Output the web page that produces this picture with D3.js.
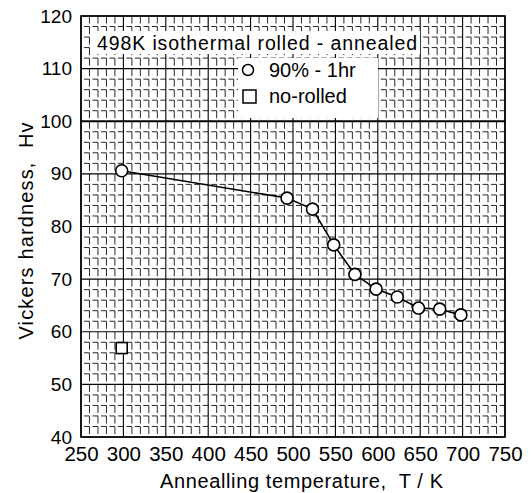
<!DOCTYPE html>
<html><head><meta charset="utf-8">
<script src="https://cdn.jsdelivr.net/npm/d3@7"></script>
<style>body{margin:0;background:#fff}svg{display:block}text{font-family:"Liberation Sans",Arial,sans-serif;fill:#000;white-space:pre}</style>
</head><body>
<svg id="c" width="531" height="493"></svg>
<script>
const temps = [298, 493, 523, 548, 573, 598, 623, 648, 673, 698];
const hardness = [90.6, 85.4, 83.3, 76.5, 70.9, 68.1, 66.6, 64.5, 64.3, 63.2];
const noRolledT = [298];
const noRolledH = [56.9];
const xTicks = [250, 300, 350, 400, 450, 500, 550, 600, 650, 700, 750];
const yTicks = [40, 50, 60, 70, 80, 90, 100, 110, 120];
const titleText = "498K isothermal rolled - annealed";
const legendLabels = ["90% - 1hr", "no-rolled"];
const xTitle = "Annealling temperature,  T / K";
const yTitle = "Vickers hardness,  Hv";

const m = {l:81, t:16, w:424, h:421};
const svg = d3.select("#c");
const x = d3.scaleLinear().domain([250,750]).range([m.l, m.l+m.w]);
const y = d3.scaleLinear().domain([40,120]).range([m.t+m.h, m.t]);
const g = svg.append("g");

// minor grid
const minorX = d3.range(250, 751, 10).filter(v => v % 50 !== 0);
const minorY = d3.range(40, 121, 2).filter(v => v % 10 !== 0);
const sx = x(260) - x(250), sy = y(40) - y(42);
g.selectAll(".mx").data(minorX).enter().append("line")
  .attr("x1", d=>x(d)).attr("x2", d=>x(d)).attr("y1", m.t).attr("y2", m.t+m.h)
  .attr("stroke", "#111").attr("stroke-width", 0.9)
  .attr("stroke-dasharray", `${sy-3} 3`);
g.selectAll(".my").data(minorY).enter().append("line")
  .attr("y1", d=>y(d)).attr("y2", d=>y(d)).attr("x1", m.l).attr("x2", m.l+m.w)
  .attr("stroke", "#111").attr("stroke-width", 0.9)
  .attr("stroke-dasharray", `${sx-3} 3`).attr("stroke-dashoffset", sx-3);
// major grid
g.selectAll(".Mx").data(xTicks).enter().append("line")
  .attr("x1", d=>x(d)).attr("x2", d=>x(d)).attr("y1", m.t).attr("y2", m.t+m.h)
  .attr("stroke", "#000").attr("stroke-width", 1.1);
g.selectAll(".My").data(yTicks).enter().append("line")
  .attr("y1", d=>y(d)).attr("y2", d=>y(d)).attr("x1", m.l).attr("x2", m.l+m.w)
  .attr("stroke", "#000").attr("stroke-width", d => d===100 ? 1.8 : 1.1);
// frame
g.append("rect").attr("x", m.l).attr("y", m.t).attr("width", m.w).attr("height", m.h)
  .attr("fill", "none").attr("stroke", "#000").attr("stroke-width", 1.6);

// axes labels via d3 axes (no domain / tick lines)
const xa = svg.append("g").attr("transform", `translate(0,${m.t+m.h})`)
  .call(d3.axisBottom(x).tickValues(xTicks).tickSize(0).tickPadding(9).tickFormat(d3.format("d")));
const ya = svg.append("g").attr("transform", `translate(${m.l},0)`)
  .call(d3.axisLeft(y).tickValues(yTicks).tickSize(0).tickPadding(9).tickFormat(d3.format("d")));
[xa, ya].forEach(a => { a.select(".domain").remove(); a.selectAll("text").attr("font-size", 19).attr("fill", "#000").attr("font-family", '"Liberation Sans",Arial,sans-serif'); });
xa.selectAll("text").attr("font-size", 20.5);

// legend boxes
svg.append("rect").attr("x", 92).attr("y", 31).attr("width", 328).attr("height", 23).attr("fill", "#fff");
svg.append("rect").attr("x", 238).attr("y", 58).attr("width", 140).attr("height", 60).attr("fill", "#fff");
svg.append("text").attr("x", 97).attr("y", 50).attr("font-size", 19.5).attr("textLength", 320).text(titleText);
svg.append("circle").attr("cx", 248).attr("cy", 70).attr("r", 5.5).attr("fill", "#fff").attr("stroke", "#000").attr("stroke-width", 1.5);
svg.append("rect").attr("x", 243).attr("y", 90).attr("width", 13).attr("height", 13).attr("fill", "#fff").attr("stroke", "#000").attr("stroke-width", 1.5);
svg.append("text").attr("x", 269).attr("y", 77).attr("font-size", 20).text(legendLabels[0]);
svg.append("text").attr("x", 269).attr("y", 103).attr("font-size", 20).text(legendLabels[1]);

// data
const pts = temps.map((t,i) => [t, hardness[i]]);
svg.append("path").datum(pts).attr("fill", "none").attr("stroke", "#000").attr("stroke-width", 1.6)
  .attr("d", d3.line().x(d=>x(d[0])).y(d=>y(d[1])));
svg.selectAll(".pt").data(pts).enter().append("circle")
  .attr("cx", d=>x(d[0])).attr("cy", d=>y(d[1])).attr("r", 6)
  .attr("fill", "#fff").attr("stroke", "#000").attr("stroke-width", 1.6);
svg.selectAll(".sq").data(noRolledT.map((t,i)=>[t,noRolledH[i]])).enter().append("rect")
  .attr("x", d=>x(d[0])-5.5).attr("y", d=>y(d[1])-5.5).attr("width", 11).attr("height", 11)
  .attr("fill", "#fff").attr("stroke", "#000").attr("stroke-width", 1.6);

// titles
svg.append("text").attr("x", 160).attr("y", 488).attr("font-size", 20).attr("textLength", 283).text(xTitle);
svg.append("text").attr("transform", "translate(33,231) rotate(-90)").attr("text-anchor", "middle")
  .attr("font-size", 20).attr("textLength", 217).text(yTitle);
</script>
</body></html>
